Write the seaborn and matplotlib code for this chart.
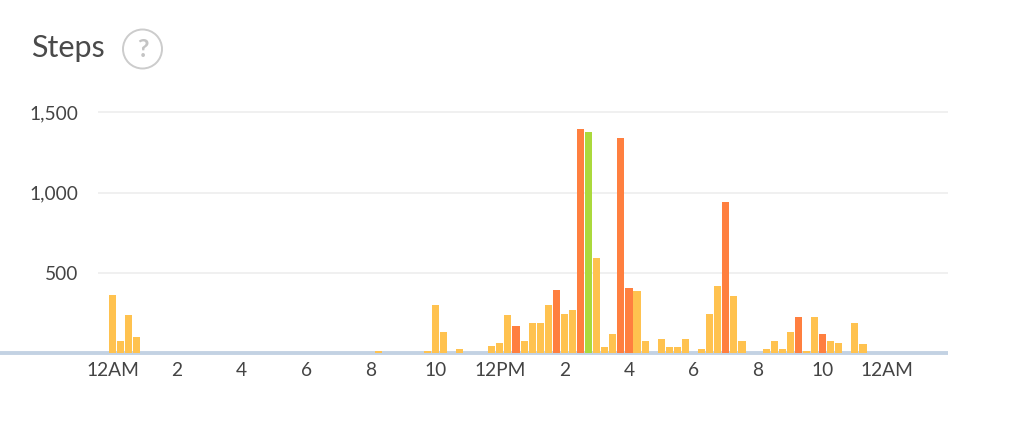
import matplotlib
matplotlib.use("Agg")
import matplotlib.pyplot as plt
from matplotlib.patches import Ellipse
import pandas as pd
import seaborn as sns

# 15-minute bin index (0 = 12AM), steps, and zone of each bar
bins = [0, 1, 2, 3, 33, 39, 40, 41, 43, 47, 48, 49, 50, 51, 52, 53, 54, 55, 56, 57,
        58, 59, 60, 61, 62, 63, 64, 65, 66, 68, 69, 70, 71, 73, 74, 75, 76, 77, 78,
        81, 82, 83, 84, 85, 86, 87, 88, 89, 90, 92, 93]
steps = [360, 75, 235, 100, 12, 12, 300, 130, 22, 45, 65, 235, 170, 75, 185, 185, 300, 395, 245, 265,
         1395, 1375, 595, 40, 120, 1340, 405, 385, 75, 90, 40, 40, 90, 22, 245, 415, 940, 355, 75,
         22, 75, 22, 130, 225, 12, 225, 120, 75, 60, 185, 55]
orange_bins = [50, 55, 58, 63, 64, 76, 85, 88]
green_bins = [59]
y_ticks = [500, 1000, 1500]
y_labels = ["500", "1,000", "1,500"]
x_tick_bins = [0, 8, 16, 24, 32, 40, 48, 56, 64, 72, 80, 88, 96]
x_labels = ["12AM", "2", "4", "6", "8", "10", "12PM", "2", "4", "6", "8", "10", "12AM"]
title = "Steps"

zones = ["orange" if b in orange_bins else "green" if b in green_bins else "yellow" for b in bins]
df = pd.DataFrame({"bin": bins, "steps": steps, "zone": zones})

W, H = 1024, 421
sns.set_theme(style="white")
plt.rcParams["font.family"] = ["Lato", "DejaVu Sans"]

fig = plt.figure(figsize=(W / 100, H / 100), dpi=100, facecolor="white")
left, right, top, bottom = 98, 948, 100, 353
ax = fig.add_axes([left / W, 1 - bottom / H, (right - left) / W, (bottom - top) / H])

sns.barplot(data=df, x="bin", y="steps", hue="zone", native_scale=True, dodge=False,
            palette={"yellow": "#FFC24F", "orange": "#FF7F3F", "green": "#ABD93C"},
            saturation=1, width=0.88, legend=False, linewidth=0, ax=ax, zorder=3)

px_per_bin = 8.07
ax.set_xlim((left - 112.5) / px_per_bin, (right - 112.5) / px_per_bin)
ax.set_ylim(0, (bottom - top) / (80.25 / 500))
ax.set_xlabel("")
ax.set_ylabel("")
for s in ax.spines.values():
    s.set_visible(False)

ax.set_yticks(y_ticks, y_labels)
ax.set_xticks(x_tick_bins, x_labels)
ax.tick_params(axis="both", length=0, labelsize=13.8, labelcolor="#444444")
ax.tick_params(axis="y", pad=14)
ax.tick_params(axis="x", pad=6.5)
ax.yaxis.grid(True, color="#EFEFEF", linewidth=1.3, zorder=0)
ax.set_axisbelow(True)

# baseline runs to the left edge of the picture
ax.plot([-left / (right - left), 1], [0, 0], transform=ax.get_yaxis_transform(), clip_on=False,
        color="#C3D2E3", linewidth=2.8, zorder=2, solid_capstyle="butt")

fig.text(31 / W, 1 - 57 / H, title, fontsize=22, color="#4A4A4A", ha="left", va="baseline")
fig.add_artist(Ellipse((142.5 / W, 1 - 49 / H), 39 / W, 39 / H, transform=fig.transFigure,
                       facecolor="white", edgecolor="#CCCCCC", linewidth=1.4))
fig.text(142.5 / W, 1 - 49.5 / H, "?", fontsize=18, fontweight="bold", color="#C4C4C4", ha="center", va="center")

fig.savefig("out.png", dpi=100)
